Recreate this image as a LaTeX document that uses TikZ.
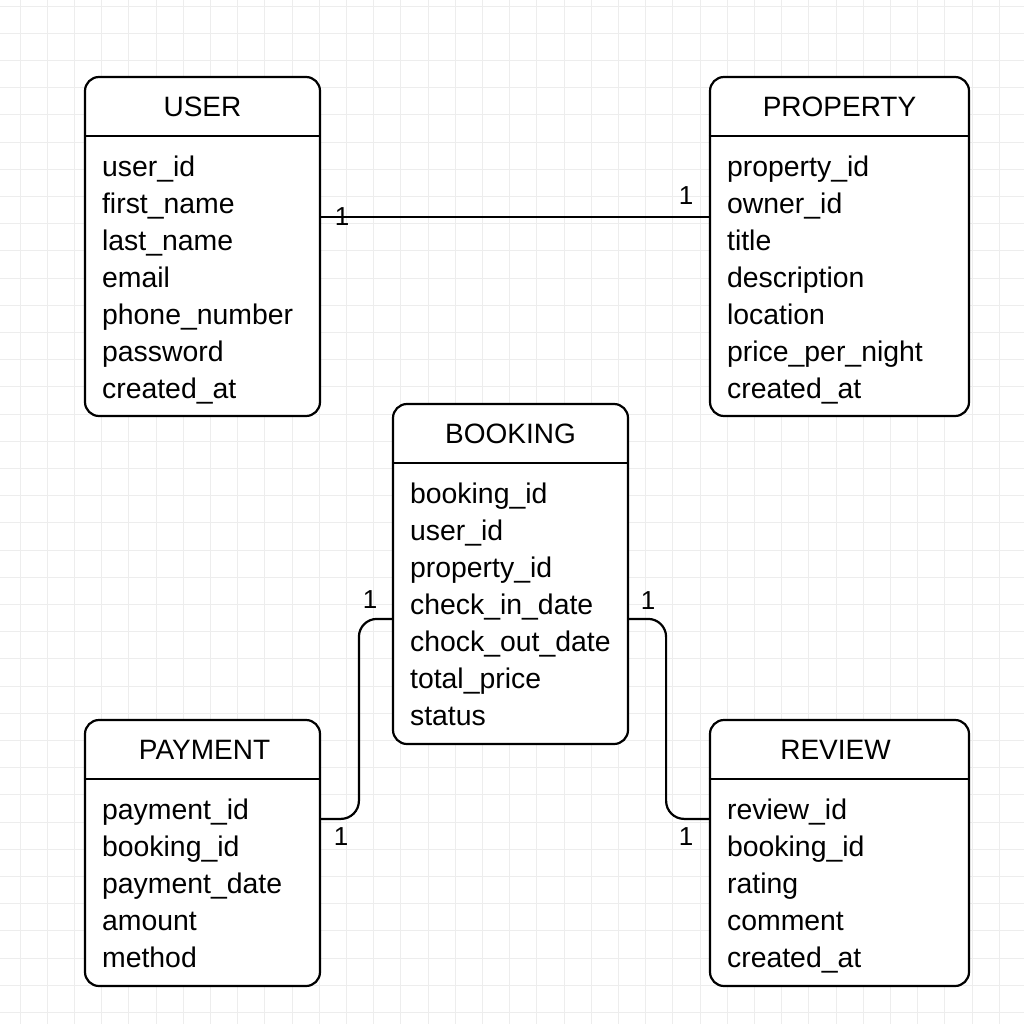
\documentclass[tikz,border=0pt]{standalone}
\usepackage{fontspec}
\setmainfont{Liberation Sans}
\usetikzlibrary{calc}
\begin{document}
\begin{tikzpicture}
    [
    x=1pt, y=-1pt,
    entity/.style={draw, line width=2.2pt, rounded corners=14pt, fill=white, inner sep=0pt},
    enttitle/.style={anchor=base, font=\fontsize{28}{32}\selectfont, inner sep=0pt},
    attr/.style={anchor=base west, font=\fontsize{28.4}{33}\selectfont, inner sep=0pt},
    card/.style={font=\fontsize{26}{30}\selectfont, inner sep=0pt},
    link/.style={line width=2.2pt, rounded corners=18pt},
    hline/.style={line width=2.2pt},
    ]
    \useasboundingbox (0,0) rectangle (1024,1024);
    \fill[white] (0,0) rectangle (1024,1024);
    % background grid
    \foreach \k in {0,...,37} {
      \draw[gray!14, line width=0.8pt] (20+27.2*\k,0) -- (20+27.2*\k,1024);
      \draw[gray!14, line width=0.8pt] (0,6+27.2*\k) -- (1024,6+27.2*\k);
    }
    % entities
    \node[entity, minimum width=235pt, minimum height=339pt] (user) at (202.5,246.5) {};
    \node[entity, minimum width=259pt, minimum height=339pt] (property) at (839.5,246.5) {};
    \node[entity, minimum width=235pt, minimum height=340pt] (booking) at (510.5,574) {};
    \node[entity, minimum width=235pt, minimum height=266pt] (payment) at (202.5,853) {};
    \node[entity, minimum width=259pt, minimum height=266pt] (review) at (839.5,853) {};
    % headers
    \foreach \e/\t/\dx in {user/USER/0, property/PROPERTY/0, booking/BOOKING/0, payment/PAYMENT/2, review/REVIEW/-4} {
      \node[enttitle] (\e-title) at ($(\e.north)+(\dx,41)$) {\t};
      \draw[hline] ($(\e.north west)+(0,60)$) -- ($(\e.north east)+(0,60)$);
    }
    % attributes
    \foreach \a [count=\i] in {user\_id, first\_name, last\_name, email, phone\_number, password, created\_at}
      \node[attr] (user-\i) at ($(user.north west)+(18,64+37*\i)$) {\a};
    \foreach \a [count=\i] in {property\_id, owner\_id, title, description, location, price\_per\_night, created\_at}
      \node[attr] (property-\i) at ($(property.north west)+(18,64+37*\i)$) {\a};
    \foreach \a [count=\i] in {booking\_id, user\_id, property\_id, check\_in\_date, chock\_out\_date, total\_price, status}
      \node[attr] (booking-\i) at ($(booking.north west)+(18,64+37*\i)$) {\a};
    \foreach \a [count=\i] in {payment\_id, booking\_id, payment\_date, amount, method}
      \node[attr] (payment-\i) at ($(payment.north west)+(18,64+37*\i)$) {\a};
    \foreach \a [count=\i] in {review\_id, booking\_id, rating, comment, created\_at}
      \node[attr] (review-\i) at ($(review.north west)+(18,64+37*\i)$) {\a};
    % relations
    \draw[hline] ($(user.north east)+(0,141)$) -- ($(property.north west)+(0,141)$);
    \draw[link] ($(booking.north west)+(0,216)$) -- ++(-33,0) |- ($(payment.north east)+(0,100)$);
    \draw[link] ($(booking.north east)+(0,216)$) -- ++(37,0) |- ($(review.north west)+(0,100)$);
    % cardinalities
    \node[card] (c-user) at (342,217) {1};
    \node[card] (c-property) at (686,196) {1};
    \node[card] (c-bpay) at (370,600) {1};
    \node[card] (c-pay) at (341,837) {1};
    \node[card] (c-brev) at (648,601) {1};
    \node[card] (c-rev) at (686,837) {1};
\end{tikzpicture}
\end{document}
